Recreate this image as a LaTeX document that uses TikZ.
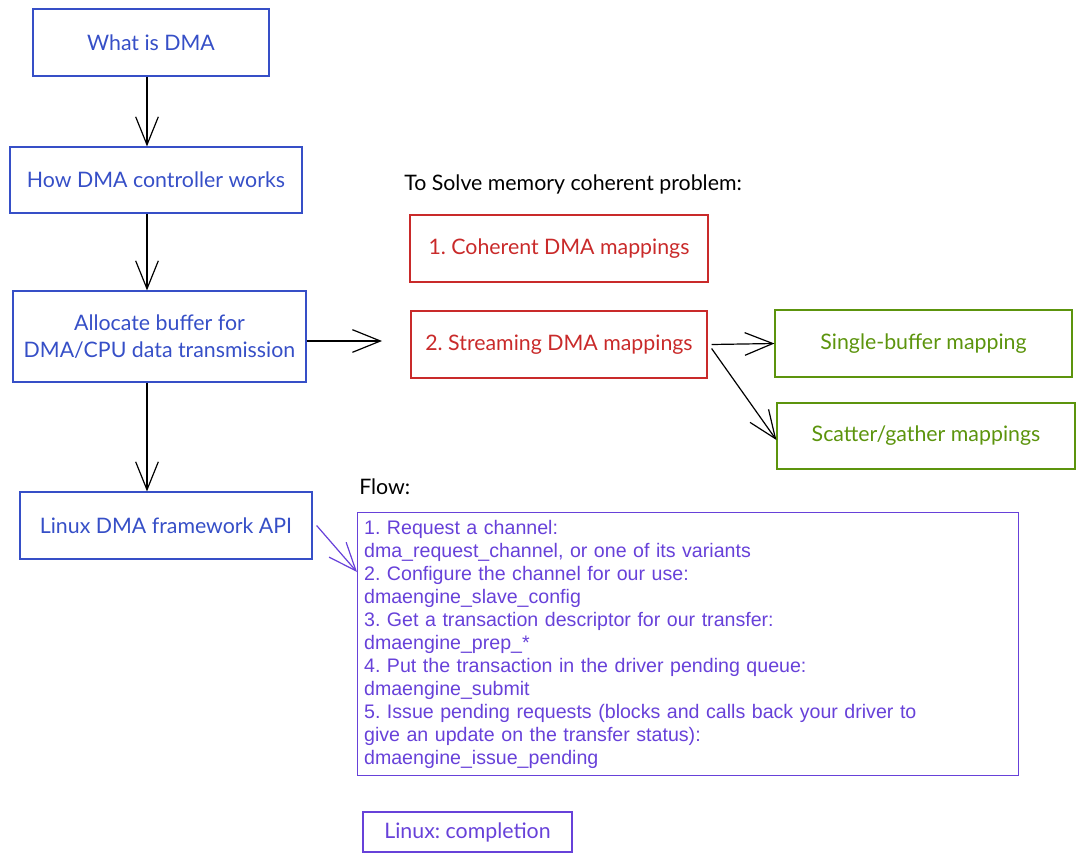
\documentclass[tikz,border=0pt]{standalone}
\usepackage{fontspec}
\setmainfont{Lato}
\newfontfamily\arialfont{Liberation Sans}
\usetikzlibrary{arrows.meta}
\definecolor{cblue}{HTML}{364FC7}
\definecolor{cred}{HTML}{C92A2A}
\definecolor{cgreen}{HTML}{5C940D}
\definecolor{cviolet}{HTML}{6741D9}
\frenchspacing
\begin{document}
\begin{tikzpicture}[x=0.75pt,y=-0.75pt,
  box/.style={draw, line width=0.9pt, rectangle, inner sep=2pt, align=center, font=\fontsize{16}{20.5}\selectfont},
  bluebox/.style={box, draw=cblue, text=cblue},
  redbox/.style={box, draw=cred, text=cred},
  greenbox/.style={box, draw=cgreen, text=cgreen},
  violetbox/.style={box, draw=cviolet, text=cviolet},
  conn/.style={line width=0.9pt, -{Straight Barb[length=21pt,width=17pt,line width=0.9pt]}},
  label/.style={inner sep=0pt, font=\fontsize{16}{20}\selectfont, text=black}]
\useasboundingbox (0,0) rectangle (1084,863);
\node[bluebox, minimum width=177pt, minimum height=50.25pt] (what) at (151,42.5) {What is DMA};
\node[bluebox, minimum width=219pt, minimum height=49.5pt] (how) at (156,180) {How DMA controller works};
\node[bluebox, minimum width=219.75pt, minimum height=68.25pt] (alloc) at (159.5,336.5) {Allocate buffer for\\DMA/CPU data transmission};
\node[bluebox, minimum width=219pt, minimum height=50.25pt] (api) at (166,525.5) {Linux DMA framework API};
\node[label, anchor=west] (title) at (404,184) {To Solve memory coherent problem:};
\node[redbox, minimum width=223.5pt, minimum height=50.25pt] (coh) at (559,248.5) {1. Coherent DMA mappings};
\node[redbox, minimum width=222pt, minimum height=50.25pt] (str) at (559,344.5) {2. Streaming DMA mappings};
\node[greenbox, minimum width=222.75pt, minimum height=50.25pt] (single) at (923.5,343.5) {Single-buffer mapping};
\node[greenbox, minimum width=223.5pt, minimum height=49.5pt] (scatter) at (926,436) {Scatter/gather mappings};
\node[label, anchor=west] (flowlbl) at (359,487) {Flow:};
\node[draw=cviolet, text=cviolet, line width=0.9pt, anchor=north west, minimum width=495.75pt, minimum height=197.25pt, inner xsep=4pt, inner ysep=3pt, text width=486pt, align=left, font=\arialfont\fontsize{14.7}{17.25}\selectfont] (flow) at (357,512) {\arialfont 1. Request a channel:\\
dma\_request\_channel, or one of its variants\\
2. Configure the channel for our use:\\
dmaengine\_slave\_config\\
3. Get a transaction descriptor for our transfer:\\
dmaengine\_prep\_*\\
4. Put the transaction in the driver pending queue:\\
dmaengine\_submit\\
5. Issue pending requests (blocks and calls back your driver to\\
give an update on the transfer status):\\
dmaengine\_issue\_pending};
\node[violetbox, minimum width=156.75pt, minimum height=30pt] (compl) at (467.5,832) {Linux: completion};
\coordinate (streamin) at (382,341);
\draw[conn] (what.south -| 147,0) -- (how.north -| 147,0);
\draw[conn] (how.south -| 147,0) -- (alloc.north -| 147,0);
\draw[conn] (alloc.south -| 147,0) -- (api.north -| 147,0);
\draw[conn] (alloc.east |- streamin) -- (streamin);
\draw[conn] ([xshift=3pt]str.east) -- (single.west);
\draw[conn] ([xshift=3pt,yshift=-3pt]str.east) -- ([yshift=-3pt]scatter.west);
\draw[conn, draw=cviolet] ([xshift=3pt]api.east) -- (flow.west |- 0,572);
\end{tikzpicture}
\end{document}
